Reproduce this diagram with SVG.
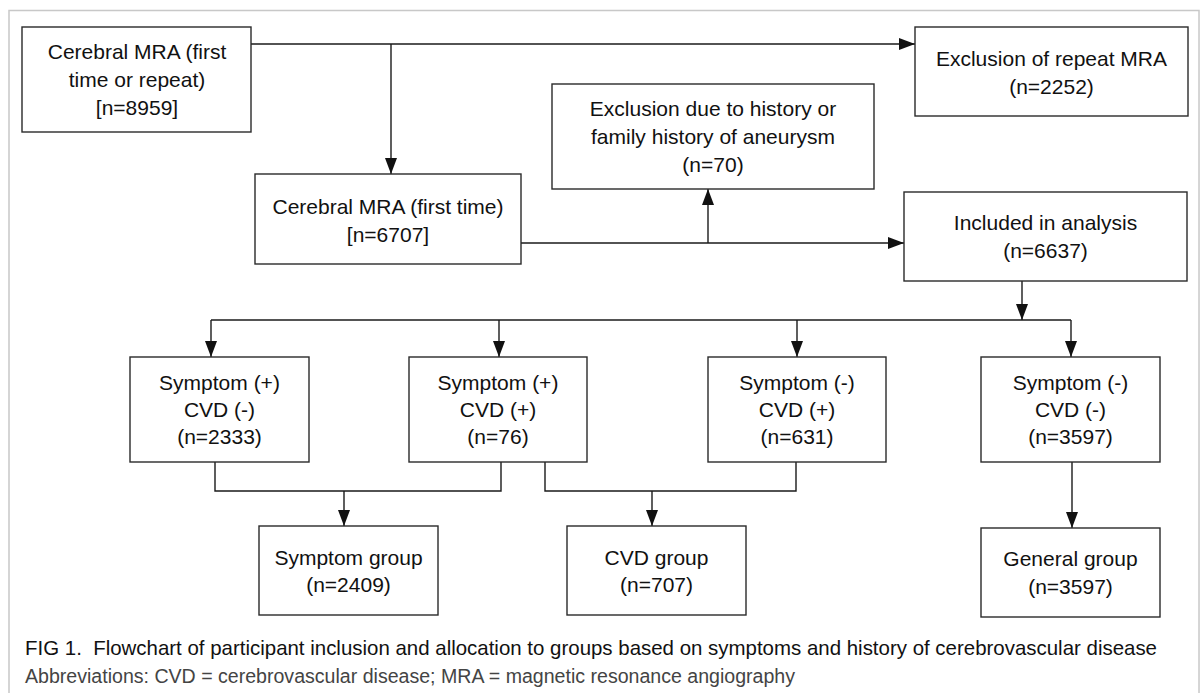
<svg xmlns="http://www.w3.org/2000/svg" width="1203" height="693" viewBox="0 0 1203 693">
<style>
.frame{fill:#fff;stroke:#c8c8c8;stroke-width:1.5}
.box{fill:#fff;stroke:#2a2a2a;stroke-width:1.4}
.ln{fill:none;stroke:#1a1a1a;stroke-width:1.4}
.t{font-family:"Liberation Sans",Arial,sans-serif;font-size:21px;fill:#111;text-anchor:middle}
.cap{font-family:"Liberation Sans",Arial,sans-serif;font-size:21px;fill:#111}
.abb{font-family:"Liberation Sans",Arial,sans-serif;font-size:20px;fill:#444}
</style>
<defs>
<marker id="ah" markerUnits="userSpaceOnUse" markerWidth="17" markerHeight="13" refX="16" refY="6" orient="auto">
<path d="M0,0 L16,6 L0,12 z" fill="#111"/>
</marker>
</defs>
<rect x="0" y="0" width="1203" height="693" fill="#fff"/>
<rect class="frame" x="9" y="10.5" width="1190" height="700"/>

<g id="connectors">
<path class="ln" d="M251,44 H915" marker-end="url(#ah)"/>
<path class="ln" d="M391,44 V174" marker-end="url(#ah)"/>
<path class="ln" d="M521,243 H904" marker-end="url(#ah)"/>
<path class="ln" d="M708,243 V189" marker-end="url(#ah)"/>
<path class="ln" d="M1022,281 V320" marker-end="url(#ah)"/>
<path class="ln" d="M211,320 H1071"/>
<path class="ln" d="M211,320 V357" marker-end="url(#ah)"/>
<path class="ln" d="M499,320 V357" marker-end="url(#ah)"/>
<path class="ln" d="M797,320 V357" marker-end="url(#ah)"/>
<path class="ln" d="M1071,320 V357" marker-end="url(#ah)"/>
<path class="ln" d="M215,462 V491 H501 V462"/>
<path class="ln" d="M344,491 V526" marker-end="url(#ah)"/>
<path class="ln" d="M545,462 V491 H796 V462"/>
<path class="ln" d="M652,491 V526" marker-end="url(#ah)"/>
<path class="ln" d="M1072,462 V528" marker-end="url(#ah)"/>
</g>

<g id="n_all">
<rect class="box" x="22" y="27" width="229" height="105"/>
<text class="t" x="137" y="59">Cerebral MRA (first</text>
<text class="t" x="137" y="87">time or repeat)</text>
<text class="t" x="137" y="115">[n=8959]</text>
</g>
<g id="n_excl_repeat">
<rect class="box" x="915" y="27" width="273" height="89"/>
<text class="t" x="1051.5" y="66">Exclusion of repeat MRA</text>
<text class="t" x="1051.5" y="94">(n=2252)</text>
</g>
<g id="n_first">
<rect class="box" x="255" y="174" width="266" height="90"/>
<text class="t" x="388" y="214">Cerebral MRA (first time)</text>
<text class="t" x="388" y="242">[n=6707]</text>
</g>
<g id="n_excl_hist">
<rect class="box" x="552" y="84" width="322" height="105"/>
<text class="t" x="713" y="116">Exclusion due to history or</text>
<text class="t" x="713" y="144">family history of aneurysm</text>
<text class="t" x="713" y="172">(n=70)</text>
</g>
<g id="n_included">
<rect class="box" x="904" y="192" width="283" height="89"/>
<text class="t" x="1045.5" y="230">Included in analysis</text>
<text class="t" x="1045.5" y="258">(n=6637)</text>
</g>
<g id="n_s1c0">
<rect class="box" x="130" y="357" width="179" height="105"/>
<text class="t" x="219.5" y="390">Symptom (+)</text>
<text class="t" x="219.5" y="417">CVD (-)</text>
<text class="t" x="219.5" y="444">(n=2333)</text>
</g>
<g id="n_s1c1">
<rect class="box" x="409" y="357" width="178" height="105"/>
<text class="t" x="498" y="390">Symptom (+)</text>
<text class="t" x="498" y="417">CVD (+)</text>
<text class="t" x="498" y="444">(n=76)</text>
</g>
<g id="n_s0c1">
<rect class="box" x="708" y="357" width="178" height="105"/>
<text class="t" x="797" y="390">Symptom (-)</text>
<text class="t" x="797" y="417">CVD (+)</text>
<text class="t" x="797" y="444">(n=631)</text>
</g>
<g id="n_s0c0">
<rect class="box" x="981" y="357" width="179" height="105"/>
<text class="t" x="1070.5" y="390">Symptom (-)</text>
<text class="t" x="1070.5" y="417">CVD (-)</text>
<text class="t" x="1070.5" y="444">(n=3597)</text>
</g>
<g id="n_symptom_group">
<rect class="box" x="259" y="526" width="179" height="89"/>
<text class="t" x="348.5" y="565">Symptom group</text>
<text class="t" x="348.5" y="592">(n=2409)</text>
</g>
<g id="n_cvd_group">
<rect class="box" x="567" y="526" width="179" height="89"/>
<text class="t" x="656.5" y="565">CVD group</text>
<text class="t" x="656.5" y="592">(n=707)</text>
</g>
<g id="n_general_group">
<rect class="box" x="981" y="528" width="179" height="89"/>
<text class="t" x="1070.5" y="566">General group</text>
<text class="t" x="1070.5" y="594">(n=3597)</text>
</g>

<g id="caption">
<text class="cap" x="25" y="655" textLength="1132" lengthAdjust="spacingAndGlyphs">FIG 1.&#160; Flowchart of participant inclusion and allocation to groups based on symptoms and history of cerebrovascular disease</text>
<text class="abb" x="25" y="683" textLength="770" lengthAdjust="spacingAndGlyphs">Abbreviations: CVD = cerebrovascular disease; MRA = magnetic resonance angiography</text>
</g>
</svg>
